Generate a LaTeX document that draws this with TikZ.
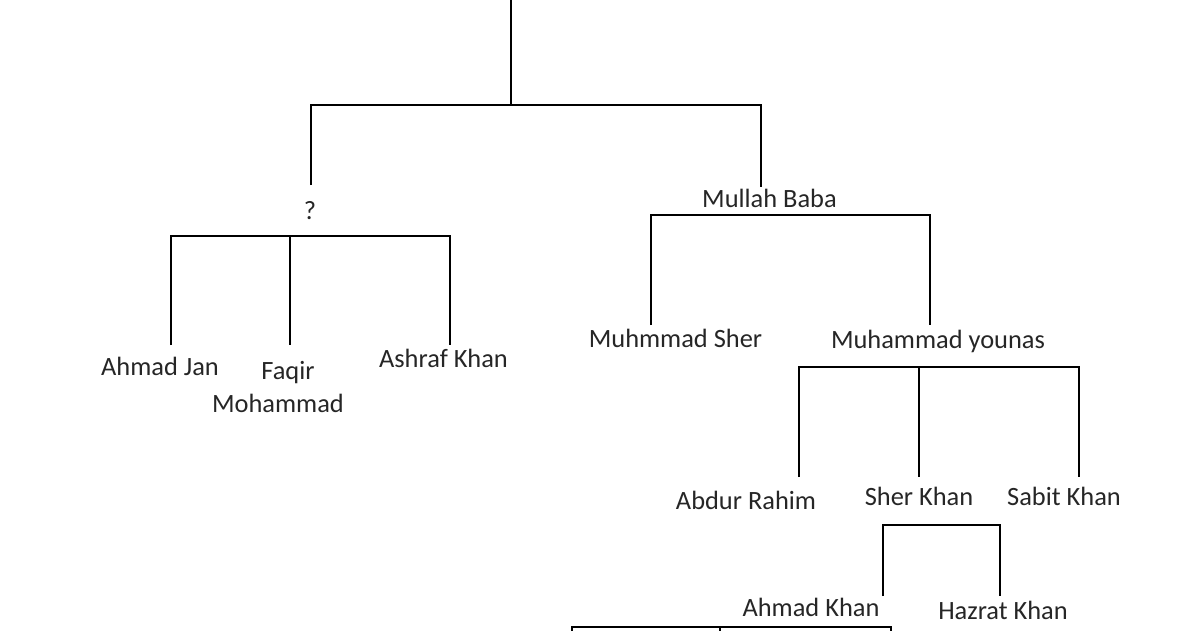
\documentclass[tikz,border=0pt]{standalone}
\usepackage{fontspec}
\setmainfont{Carlito}
\begin{document}
\begin{tikzpicture}[x=1pt,y=-1pt,
  person/.style={anchor=base,inner sep=0pt,text=black!85,font=\fontsize{26.4}{30}\selectfont},
  link/.style={draw=black,line width=1.3pt}]
\useasboundingbox[fill=white] (0,0) rectangle (1200,630);
% people
\node[person] (q)  at (310,219) {?};
\node[person] (mb) at (769.5,207) {Mullah Baba};
\node[person] (aj) at (160,375) {Ahmad Jan};
\node[person] (fq) at (288,379) {Faqir};
\node[person] (fm) at (278,412) {Mohammad};
\node[person] (ak) at (443.5,367) {Ashraf Khan};
\node[person] (ms) at (675.5,347) {Muhmmad Sher};
\node[person] (my) at (938,348) {Muhammad younas};
\node[person] (ar) at (746,509) {Abdur Rahim};
\node[person] (sk) at (919,505.5) {Sher Khan};
\node[person] (sb) at (1064,505.5) {Sabit Khan};
\node[person] (ahk) at (811,616.5) {Ahmad Khan};
\node[person] (hk) at (1003,619) {Hazrat Khan};
% junction coordinates
\coordinate (top) at (511,0);
\coordinate (j0) at (511,105);
\coordinate (j0l) at (311,105);
\coordinate (j0r) at (761,105);
\coordinate (e0l) at (311,185);
\coordinate (e0r) at (761,187);
\coordinate (j1l) at (171,236);
\coordinate (j1m) at (290,236);
\coordinate (j1r) at (450,236);
\coordinate (e1l) at (171,345);
\coordinate (e1m) at (290,345);
\coordinate (e1r) at (450,345);
\coordinate (j2l) at (651,215);
\coordinate (j2r) at (930,215);
\coordinate (e2l) at (651,325);
\coordinate (e2r) at (930,325);
\coordinate (j3l) at (799,367);
\coordinate (j3m) at (919,367);
\coordinate (j3r) at (1079,367);
\coordinate (e3l) at (799,477);
\coordinate (e3m) at (919,477);
\coordinate (e3r) at (1079,477);
\coordinate (j4l) at (883,525);
\coordinate (j4r) at (1000,525);
\coordinate (e4l) at (883,596);
\coordinate (e4r) at (1000,596);
\coordinate (j5l) at (572,627);
\coordinate (j5m) at (720,627);
\coordinate (j5r) at (891,627);
\coordinate (e5l) at (572,640);
\coordinate (e5m) at (720,640);
\coordinate (e5r) at (891,640);
% connectors
\draw[link] (top) -- (j0);
\draw[link] (e0l) -- (j0l) -- (j0r) -- (e0r);
\draw[link] (e1l) -- (j1l) -- (j1r) -- (e1r);
\draw[link] (j1m) -- (e1m);
\draw[link] (e2l) -- (j2l) -- (j2r) -- (e2r);
\draw[link] (e3l) -- (j3l) -- (j3r) -- (e3r);
\draw[link] (j3m) -- (e3m);
\draw[link] (e4l) -- (j4l) -- (j4r) -- (e4r);
\draw[link] (e5l) -- (j5l) -- (j5r) -- (e5r);
\draw[link] (j5m) -- (e5m);
\end{tikzpicture}
\end{document}
